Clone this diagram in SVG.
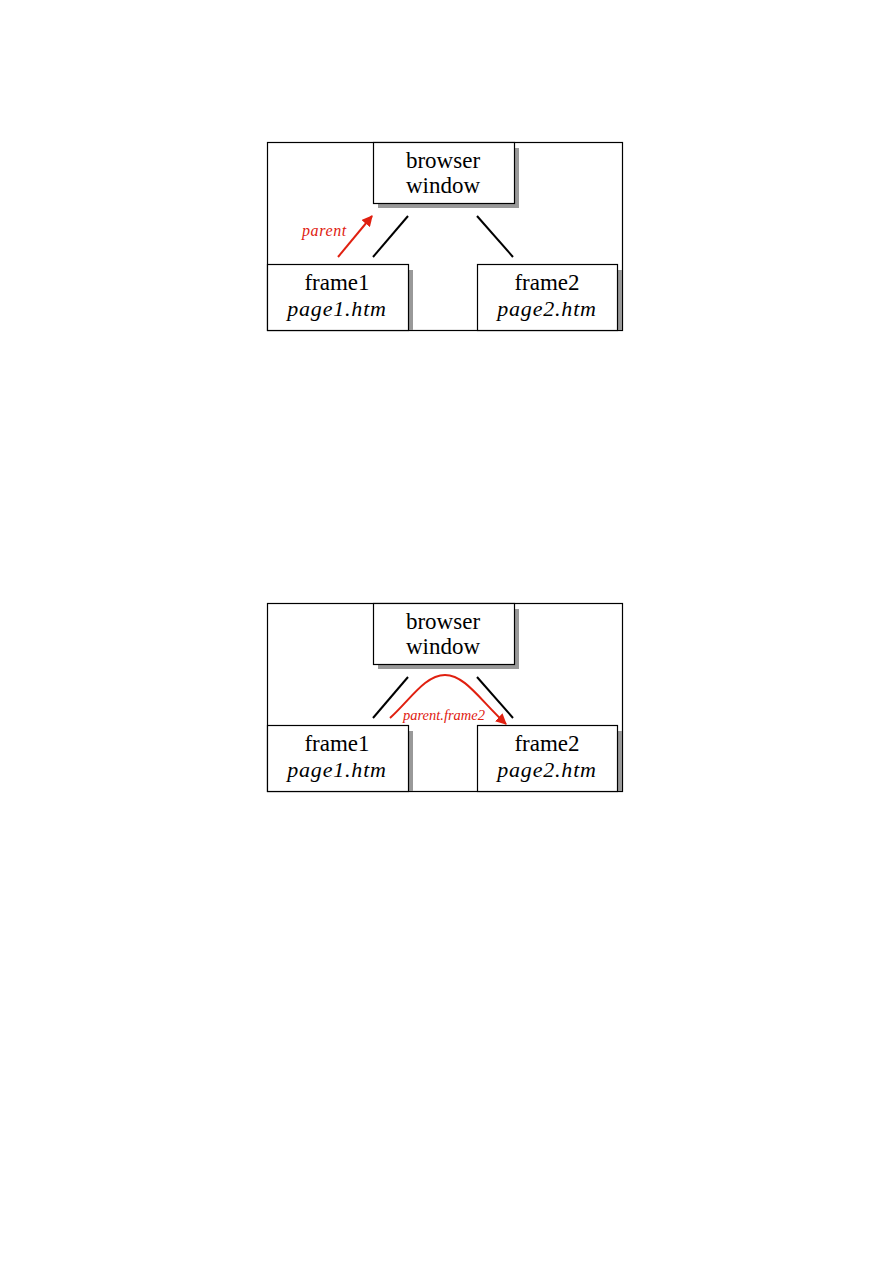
<svg xmlns="http://www.w3.org/2000/svg" width="893" height="1263" viewBox="0 0 893 1263">
<style>
.panel{fill:#fff;stroke:#000;stroke-width:1.2}
.shadow{fill:#999}
.box{fill:#fff;stroke:#000;stroke-width:1.2}
.t{font-family:"Liberation Serif","Times New Roman",serif;font-size:23px;fill:#000;text-anchor:middle}
.i{font-style:italic;font-size:22px;letter-spacing:0.8px}
.link{stroke:#000;stroke-width:2;fill:none}
.red{stroke:#e02010;stroke-width:2;fill:none}
.rl{font-family:"Liberation Serif","Times New Roman",serif;font-style:italic;font-size:16px;letter-spacing:0.6px;fill:#e02010}
.rl2{font-size:14.5px;letter-spacing:0}
</style>
<defs>
<marker id="ah" viewBox="0 0 10 10" refX="9" refY="5" markerWidth="5.5" markerHeight="5.5" orient="auto" markerUnits="strokeWidth">
<path d="M0,0 L10,5 L0,10 z" fill="#e02010"/>
</marker>
</defs>
<rect width="893" height="1263" fill="#fff"/>

<!-- Panel 1 -->
<rect class="panel" x="267.5" y="142.5" width="355" height="188"/>
<g id="p1-browser">
<rect class="shadow" x="378" y="148" width="141" height="60"/>
<rect class="box" x="373.5" y="142.5" width="141" height="61"/>
<text class="t" x="443" y="168">browser</text>
<text class="t" x="443" y="193">window</text>
</g>
<g id="p1-frame1">
<rect class="shadow" x="272" y="270" width="141" height="60"/>
<rect class="box" x="267.5" y="264.5" width="141" height="66"/>
<text class="t" x="337" y="290">frame1</text>
<text class="t i" x="337" y="316">page1.htm</text>
</g>
<g id="p1-frame2">
<rect class="shadow" x="482" y="270" width="140" height="60"/>
<rect class="box" x="477.5" y="264.5" width="140" height="66"/>
<text class="t" x="547" y="290">frame2</text>
<text class="t i" x="547" y="316">page2.htm</text>
</g>
<g id="p1-connectors">
<line class="link" x1="373" y1="257" x2="408" y2="216"/>
<line class="link" x1="477" y1="216" x2="513" y2="257"/>
<line class="red" x1="338" y1="257" x2="372" y2="216" marker-end="url(#ah)"/>
<text class="rl" x="302" y="236">parent</text>
</g>

<!-- Panel 2 -->
<rect class="panel" x="267.5" y="603.5" width="355" height="188"/>
<g id="p2-browser">
<rect class="shadow" x="378" y="609" width="141" height="60"/>
<rect class="box" x="373.5" y="603.5" width="141" height="61"/>
<text class="t" x="443" y="629">browser</text>
<text class="t" x="443" y="654">window</text>
</g>
<g id="p2-frame1">
<rect class="shadow" x="272" y="731" width="141" height="60"/>
<rect class="box" x="267.5" y="725.5" width="141" height="66"/>
<text class="t" x="337" y="751">frame1</text>
<text class="t i" x="337" y="777">page1.htm</text>
</g>
<g id="p2-frame2">
<rect class="shadow" x="482" y="731" width="140" height="60"/>
<rect class="box" x="477.5" y="725.5" width="140" height="66"/>
<text class="t" x="547" y="751">frame2</text>
<text class="t i" x="547" y="777">page2.htm</text>
</g>
<g id="p2-connectors">
<line class="link" x1="373" y1="718" x2="408" y2="677"/>
<line class="link" x1="477" y1="677" x2="513" y2="718"/>
<path class="red" d="M390,718 C410,700 425,675 445,675 C465,675 480,700 506,724" marker-end="url(#ah)"/>
<text class="rl rl2" x="403" y="720">parent.frame2</text>
</g>
</svg>
